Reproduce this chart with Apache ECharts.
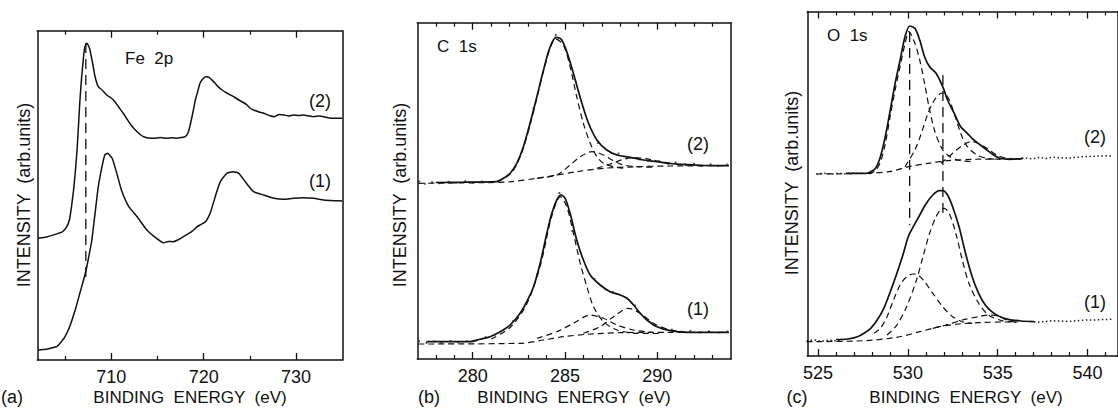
<!DOCTYPE html>
<html>
<head>
<meta charset="utf-8">
<script src="https://cdn.jsdelivr.net/npm/echarts@6/dist/echarts.min.js"></script>
<style>
html,body{margin:0;padding:0;background:#fff;}
#c{width:1118px;height:410px;}
</style>
</head>
<body>
<div id="c"></div>
<script>
// ---------------- DATA ----------------
// Panel (a) Fe 2p : [binding energy eV, intensity (arb.)]
const fe2 = [[702.1,121.7],[703.0,123],[704.3,126.7],[704.7,128],[705.2,133.3],[705.5,141],[705.7,153.3],[705.9,168],[706.1,186.7],[706.3,210],[706.45,233.3],[706.6,258],[706.8,283.3],[707.0,303],[707.15,313.3],[707.35,316.7],[707.5,315],[707.7,310],[708.0,296],[708.25,283.3],[708.6,273.3],[709.0,270],[709.5,265],[710.0,262],[710.4,258.3],[710.8,253],[711.3,246.7],[711.7,241],[712.0,236.7],[712.4,232],[712.8,228.3],[713.2,225],[713.5,223.3],[714.0,222],[714.6,221.7],[715.3,222.5],[716.0,221.7],[716.6,222.3],[717.1,221.7],[717.6,222.5],[718.0,223.3],[718.3,227],[718.5,233.3],[718.8,246],[719.1,260],[719.4,270],[719.6,276.7],[719.9,281],[720.2,283.3],[720.5,283],[720.7,281.7],[721.0,279],[721.25,276.7],[721.6,273],[722.0,270],[722.5,267],[722.9,265],[723.3,263],[723.8,260],[724.2,258],[724.7,255],[725.0,252],[725.4,250],[726.0,248],[726.5,246.7],[727.1,244.5],[727.6,243.3],[728.2,245.5],[728.7,245],[729.2,244],[729.7,245],[730.3,244.5],[730.8,245],[731.4,244],[731.9,243.3],[732.5,244],[733.0,243.3],[733.6,242],[734.1,241.7],[735.0,241.7]];
const fe1 = [[702.1,10],[702.6,10.5],[703.0,10.7],[703.5,12],[704.1,13.3],[704.6,18.3],[705.0,23.3],[705.5,33.3],[706.1,50],[706.6,66.7],[707.2,86.7],[707.5,100],[707.9,120],[708.25,146.7],[708.6,173.3],[709.0,193.3],[709.3,205],[709.6,206.7],[710.1,201.7],[710.6,186.7],[711.1,170],[711.9,153.3],[712.8,143.3],[713.85,130],[714.9,121.7],[715.65,117.3],[716.2,118.5],[716.7,118.3],[717.3,120.5],[717.8,123.3],[718.7,128.3],[719.3,133.3],[719.6,135],[720.2,138.3],[720.7,146.7],[721.25,163.3],[721.8,178.3],[722.5,186.7],[723.2,188.3],[723.8,186.7],[724.5,178.3],[725.4,168.3],[726.5,165],[727.6,161.7],[728.7,160.7],[729.7,161.7],[730.8,162.3],[731.9,161.7],[733.0,160],[734.1,159.3],[735.0,159]];
const feGuide = [[707.25,317],[707.25,83]];

// Panel (b) C 1s
const c2Total = [[278,176.5],[279.5,176.8],[281.3,177.3],[281.67,180.7],[282.03,185.7],[282.39,195.7],[282.75,212.3],[283.11,235.7],[283.48,262.3],[283.84,289],[284.2,312.3],[284.53,321.7],[284.83,319],[285.19,302.3],[285.56,279],[285.92,255.7],[286.28,235.7],[286.73,219],[287.27,209],[287.82,204],[288.54,201.7],[289.26,199],[289.99,197.3],[290.71,195.5],[291.62,194.3],[292.52,193.5],[293.88,193.3]];
const c2Main = [[281.3,177],[282.03,185],[282.39,194.5],[282.75,211],[283.11,234],[283.48,261],[283.84,288],[284.2,311],[284.5,320],[284.92,314],[285.28,292.3],[285.64,262.3],[286.0,235.7],[286.37,215.7],[286.73,202.3],[287.09,195.7],[287.63,192.3],[288.18,190.7]];
const c2Comp2 = [[283.48,180.7],[284.56,184],[285.28,194],[285.83,202.3],[286.46,207.3],[287.09,204],[287.63,198.3],[288.18,194],[288.9,192.3],[289.8,191.8]];
const c2Comp3 = [[286.73,190.7],[287.45,195],[288.18,199.7],[288.72,201.5],[289.44,200.2],[290.17,197.3],[291.07,194.7],[291.98,193.3]];
const c2Bg = [[277.06,175.7],[280.4,176.3],[282.03,177.3],[283.48,180.7],[284.56,184],[285.64,187.3],[287.09,190.7],[288.9,192.3],[290.71,193],[293.88,193.3]];
const c2Dots = [[277.1,177.5],[277.4,175.3],[277.8,176.7],[278.2,175.8],[278.7,177.2],[279.1,176.1],[279.6,177.8],[280.0,176.4],[280.5,177.5],[281.0,176.9],[282.3,192],[283.3,251],[284.5,324],[285.6,277],[286.8,216],[287.9,205.5],[289.0,199.8],[289.5,198.2],[290.1,197.8],[290.6,195.2],[291.0,196.5],[291.5,194.8],[292.0,195.2],[292.4,193.4],[292.9,194.6],[293.3,193.2],[293.8,194.5]];
const c1Total = [[277.5,17.3],[279.86,17.3],[280.4,19.7],[280.94,22.3],[281.49,27.3],[282.03,34],[282.57,45.7],[282.93,57.3],[283.3,72.3],[283.66,95.7],[284.02,125.7],[284.29,145.7],[284.56,159],[284.78,164],[285.01,160.7],[285.28,145.7],[285.64,119],[286.0,99],[286.37,84],[286.91,74],[287.45,67.3],[288.0,64],[288.36,60.7],[288.72,54],[289.08,45.7],[289.44,39],[289.99,32.3],[290.71,28.3],[291.62,26.7],[292.52,26.7],[293.88,26.7]];
const c1Main = [[281.0,20],[282.03,31.5],[282.93,55],[283.66,93],[284.29,143],[284.75,162.3],[285.1,152.3],[285.46,125.7],[285.83,95.7],[286.19,72.3],[286.55,52.3],[287.09,37.3],[287.82,29],[288.9,25.7],[290.17,25.5]];
const c1Comp2 = [[283.48,20.7],[284.56,27.3],[285.46,35.7],[286.37,44],[287.09,40.7],[287.82,34],[288.72,29],[289.8,26.5]];
const c1Comp3 = [[286.0,25.7],[286.91,32.3],[287.63,42.3],[288.45,50.7],[289.08,45.7],[289.8,35.7],[290.71,29],[291.62,26.7]];
const c1Bg = [[277.06,15],[282.57,15.7],[283.84,19],[284.92,22.3],[286.19,24.7],[288.0,26.3],[290.71,26.7],[293.88,26.7]];
const c1Dots = [[277.1,17.8],[277.5,16.2],[277.9,17.6],[278.3,16.5],[278.8,18],[279.2,16.8],[279.7,17.9],[280.2,18.5],[280.7,21.8],[281.2,24.3],[282.2,38],[283.5,85],[284.7,166],[285.4,128],[286.6,80],[287.6,67],[288.8,53.5],[289.6,37],[290.3,30.5],[290.8,29.4],[291.3,27.3],[291.8,28.1],[292.3,26.5],[292.8,27.8],[293.3,26.4],[293.8,27.5]];

// Panel (c) O 1s
const o2Total = [[526.55,182.7],[527.65,182.7],[527.83,183.3],[528.2,187.7],[528.47,199.3],[528.74,219.3],[529.02,246],[529.29,272.7],[529.57,296],[529.84,319.3],[530.11,330],[530.39,327.7],[530.66,316],[530.93,299.3],[531.21,289.3],[531.57,282.7],[531.94,269.3],[532.21,256],[532.58,242.7],[532.94,229.3],[533.31,222.7],[533.67,216],[534.04,211],[534.4,206],[534.77,201],[535.13,197.7],[535.68,196.7],[536.41,197.7]];
const o2DataL = [[524.9,182],[525.3,182.8],[525.7,181.8],[526.1,182.6],[526.5,182.3],[526.9,183.1],[527.3,182.4]];
const o2DataR = [[535.7,197.5],[536.1,196.4],[536.5,198.3],[536.9,197.2],[537.3,198.5],[537.7,197.6],[538.1,198.9],[538.5,198.1],[538.9,197.9],[539.3,198.6],[539.7,199.2],[540.1,199.6],[540.5,199.9],[540.9,200.3],[541.4,200]];
const o2A = [[527.83,182],[528.2,185.5],[528.47,194],[528.74,212],[529.02,240],[529.29,266],[529.57,290],[529.84,312],[530.06,324.3],[530.39,312.7],[530.66,296],[530.93,272.7],[531.21,246],[531.48,226],[531.84,209.3],[532.21,201],[532.76,196],[533.49,194.3]];
const o2B = [[529.84,189.3],[530.39,206],[530.75,222.7],[531.12,242.7],[531.48,256],[531.84,262.7],[532.03,263],[532.3,256],[532.58,242.7],[532.94,222.7],[533.31,209.3],[533.85,201],[534.4,197.7],[535.13,196.7]];
const o2C = [[531.84,192.7],[532.39,201],[532.94,209.3],[533.49,214.3],[533.85,213.3],[534.4,207.7],[534.95,201],[535.5,197.7],[536.2,196.7]];
const o2Bg = [[524.91,182],[527.65,182.7],[528.93,184.3],[530.06,189.3],[531.12,192.7],[532.21,195.3],[533.67,196.7],[535.5,197],[536.4,197.2]];
const o1Total = [[526.0,16.5],[526.65,17],[527.2,19.3],[527.56,22.7],[527.93,27.7],[528.29,36],[528.66,47.7],[529.02,64.3],[529.39,82.7],[529.75,102.7],[530.02,119.3],[530.3,129.3],[530.66,141],[531.03,152.7],[531.39,161],[531.75,165.3],[531.94,165.3],[532.21,161],[532.49,149.3],[532.85,129.3],[533.21,102.7],[533.58,79.3],[533.94,62.7],[534.31,51],[534.67,44.3],[535.04,40],[535.58,36.7],[536.31,35],[537.04,34.3]];
const o1DataL = [[524.36,15.3],[524.8,16],[525.2,14.8],[525.6,15.9],[526.0,15.2],[526.4,16.4]];
const o1DataR = [[536.8,34.6],[537.2,33.8],[537.59,34.3],[538.0,35.2],[538.5,35],[538.9,34.6],[539.42,35.3],[539.9,35.9],[540.33,36],[540.8,36.5],[541.33,36.7]];
const o1A = [[528.11,22.7],[528.47,27.7],[528.84,39.3],[529.2,56],[529.57,71],[529.93,79.3],[530.3,82],[530.57,81],[530.93,74.3],[531.39,62.7],[531.94,49.3],[532.49,39.3],[533.03,34.3],[533.58,32.7]];
const o1B = [[528.84,21],[529.39,31],[529.93,49.3],[530.48,76],[530.84,99.3],[531.21,122.7],[531.57,139.3],[531.84,146.7],[532.03,147.7],[532.3,142.7],[532.67,122.7],[533.03,96],[533.4,72.7],[533.94,52.7],[534.49,41],[535.22,35.3],[535.77,34.3]];
const o1C = [[531.39,27.7],[532.12,31],[533.03,36],[533.94,39.3],[534.49,41],[535.04,40],[535.58,35.3],[536.13,33.3]];
const o1Bg = [[524.36,14.3],[527.56,15.3],[529.39,18.7],[530.66,24.3],[531.75,29.3],[532.85,32],[533.94,33.3],[535.4,34],[536.13,34]];
const oGuide1 = [[530.1,324],[530.1,131]];
const oGuide2 = [[531.95,281],[531.95,139]];

// Tick values / ranges
const aRange = [702, 735], bRange = [277, 294], cRange = [524.4, 541.7];
const aMajor = [710, 720, 730], aMinor = [705, 715, 725];
const bMajor = [280, 285, 290], bMinor = [278, 279, 281, 282, 283, 284, 286, 287, 288, 289, 291, 292, 293];
const cMajor = [525, 530, 535, 540], cMinor = [526, 527, 528, 529, 531, 532, 533, 534, 536, 537, 538, 539, 541];
const yMax = [329.3, 336.3, 344.5];

// ---------------- LAYOUT / STYLE ----------------
const FONT = '"Liberation Sans", Arial, sans-serif';
const INK = '#111';
const grids = [
  {left: 37.3, top: 30.7, width: 305, height: 329.3},
  {left: 417.3, top: 22.7, width: 313.7, height: 336.3},
  {left: 807.3, top: 11.5, width: 316.1, height: 344.5}
];
const ranges = [aRange, bRange, cRange];
const majors = [aMajor, bMajor, cMajor];
const minors = [aMinor, bMinor, cMinor];

const xAxes = [], yAxes = [];
grids.forEach((g, p) => {
  const base = {type: 'value', gridIndex: p, min: ranges[p][0], max: ranges[p][1],
    splitLine: {show: false}};
  const line = {show: true, onZero: false, lineStyle: {color: INK, width: 1.5}};
  ['bottom', 'top'].forEach(pos => {
    xAxes.push(Object.assign({}, base, {position: pos, axisLine: line,
      axisTick: {show: true, inside: true, length: 4, customValues: minors[p], lineStyle: {color: INK, width: 1.2}},
      axisLabel: {show: false}}));
    xAxes.push(Object.assign({}, base, {position: pos, axisLine: {show: false, onZero: false},
      axisTick: {show: true, inside: true, length: 7, customValues: majors[p], lineStyle: {color: INK, width: 1.3}},
      axisLabel: pos === 'bottom' ? {show: true, customValues: majors[p], margin: 8, fontSize: 18,
        fontFamily: FONT, color: INK} : {show: false}}));
  });
  ['left', 'right'].forEach(pos => {
    yAxes.push({type: 'value', gridIndex: p, position: pos, min: 0, max: yMax[p],
      axisLine: {show: true, onZero: false, lineStyle: {color: INK, width: 1.5}},
      axisTick: {show: false}, axisLabel: {show: false}, splitLine: {show: false}});
  });
});

const series = [];
function add(p, data, kind) {
  const s = {type: 'line', xAxisIndex: 4 * p, yAxisIndex: 2 * p, data: data,
    showSymbol: false, symbol: 'none', silent: true, animation: false, z: 3};
  if (kind === 'solid') { s.lineStyle = {color: INK, width: 1.7}; s.smooth = 0.3; }
  if (kind === 'raw') { s.lineStyle = {color: INK, width: 1.5}; s.smooth = 0.15; }
  if (kind === 'dash') { s.lineStyle = {color: INK, width: 1.2, type: [6, 4]}; s.smooth = 0.3; }
  if (kind === 'guide') { s.lineStyle = {color: INK, width: 1.3, type: [10, 6]}; }
  if (kind === 'dotted') { s.lineStyle = {color: '#222', width: 1.5, type: [1.5, 2.5]}; }
  if (kind === 'dots') {
    s.type = 'scatter'; s.symbol = 'circle'; s.symbolSize = 2.2; s.showSymbol = true;
    s.itemStyle = {color: '#222'}; delete s.lineStyle;
  }
  series.push(s);
}
add(0, fe2, 'raw'); add(0, fe1, 'raw'); add(0, feGuide, 'guide');
[c2Main, c2Comp2, c2Comp3, c2Bg, c1Main, c1Comp2, c1Comp3, c1Bg].forEach(d => add(1, d, 'dash'));
add(1, c2Total, 'solid'); add(1, c1Total, 'solid');
add(1, c2Dots, 'dots'); add(1, c1Dots, 'dots');
[o2A, o2B, o2C, o2Bg, o1A, o1B, o1C, o1Bg].forEach(d => add(2, d, 'dash'));
add(2, o2Total, 'solid'); add(2, o1Total, 'solid');
[o2DataL, o2DataR, o1DataL, o1DataR].forEach(d => add(2, d, 'dotted'));
add(2, oGuide1, 'guide'); add(2, oGuide2, 'guide');

function txt(text, x, y, size, align, rot) {
  return {type: 'text', x: x, y: y, rotation: rot || 0, silent: true,
    style: {text: text, fill: INK, font: size + 'px ' + FONT, textAlign: align || 'center', textVerticalAlign: 'middle'}};
}
const graphics = [
  txt('Fe  2p', 125, 58, 17, 'left'),
  txt('C  1s', 437, 46, 17, 'left'),
  txt('O  1s', 827, 35, 17, 'left'),
  txt('(2)', 320, 101, 18), txt('(1)', 320, 181, 18),
  txt('(2)', 698, 144, 18), txt('(1)', 698, 309, 18),
  txt('(2)', 1095, 137, 18), txt('(1)', 1095, 302, 18),
  txt('(a)', 12, 397, 18), txt('(b)', 429, 397, 18), txt('(c)', 797, 397, 18),
  txt('BINDING  ENERGY  (eV)', 190, 397, 17),
  txt('BINDING  ENERGY  (eV)', 574, 397, 17),
  txt('BINDING  ENERGY  (eV)', 966, 397, 17),
  txt('INTENSITY  (arb.units)', 23.5, 195, 18, 'center', Math.PI / 2),
  txt('INTENSITY  (arb.units)', 400, 195, 18, 'center', Math.PI / 2),
  txt('INTENSITY  (arb.units)', 792, 183, 18, 'center', Math.PI / 2)
];

const chart = echarts.init(document.getElementById('c'), null, {renderer: 'svg', width: 1118, height: 410});
chart.setOption({
  animation: false,
  backgroundColor: '#fff',
  grid: grids,
  xAxis: xAxes,
  yAxis: yAxes,
  series: series,
  graphic: graphics
});
</script>
</body>
</html>
